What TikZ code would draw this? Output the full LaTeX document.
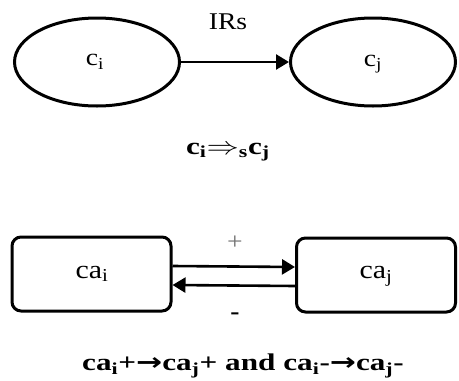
\documentclass[tikz,border=0pt]{standalone}
\usepackage{fontspec}
\setmainfont{Liberation Serif}
\newfontfamily\arrowfont{DejaVu Sans}
\usetikzlibrary{shapes.geometric,arrows.meta}
\newcommand{\wide}[1]{\scalebox{1.15}[1]{#1}}
\newcommand{\wider}[1]{\scalebox{1.3}[1]{#1}}
\newcommand{\thenarrow}{{\arrowfont\bfseries →}}
\begin{document}
\begin{tikzpicture}[x=1pt,y=-1pt,
  conc/.style={draw,ellipse,line width=3pt,minimum width=165pt,minimum height=88pt,inner sep=0pt},
  cabox/.style={draw,rounded corners=9pt,line width=3pt,minimum width=159pt,minimum height=74pt,inner sep=0pt},
  link/.style={line width=2.6pt,-{Triangle[length=13pt,width=15pt]}},
  lbl/.style={font=\fontsize{24}{26}\selectfont,inner sep=0pt},
  boxlbl/.style={font=\fontsize{26}{28}\selectfont,inner sep=0pt},
  rule/.style={font=\fontsize{24}{26}\selectfont\bfseries,inner sep=0pt}]
\useasboundingbox (0,0) rectangle (459,381);

% concepts linked by an inference rule
\node[conc] (ci) at (97,62) {};
\node[conc] (cj) at (373,62) {};
\node[lbl] (ciname) at (95,62) {\wide{c\textsubscript{i}}};
\node[lbl] (cjname) at (373,64) {\wide{c\textsubscript{j}}};
\draw[link] (ci.east) -- (cj.west);
\node[lbl] (irs) at (228,22) {\wide{IRs}};
\node[rule] (imp) at (228,152) {\wider{c\textsubscript{i}$\Rightarrow$\textsubscript{s}c\textsubscript{j}}};

% causal atoms with positive and negative influence
\node[cabox] (cai) at (91.5,274) {};
\node[cabox] (caj) at (376,275) {};
\node[boxlbl] (cainame) at (92,274) {\wide{ca\textsubscript{i}}};
\node[boxlbl] (cajname) at (376,276) {\wide{ca\textsubscript{j}}};
\draw[link] ([yshift=8pt]cai.east) -- ([yshift=8pt]caj.west);
\draw[link] ([yshift=-11pt]caj.west) -- ([yshift=-11pt]cai.east);
\node[lbl,text=black!55] (plus) at (235,243) {\wide{+}};
\node[lbl] (minus) at (235,316) {\wide{\bfseries -}};
\node[rule] (caus) at (243,366) {\wider{ca\textsubscript{i}+\thenarrow ca\textsubscript{j}+ and ca\textsubscript{i}-\thenarrow ca\textsubscript{j}-}};
\end{tikzpicture}
\end{document}
